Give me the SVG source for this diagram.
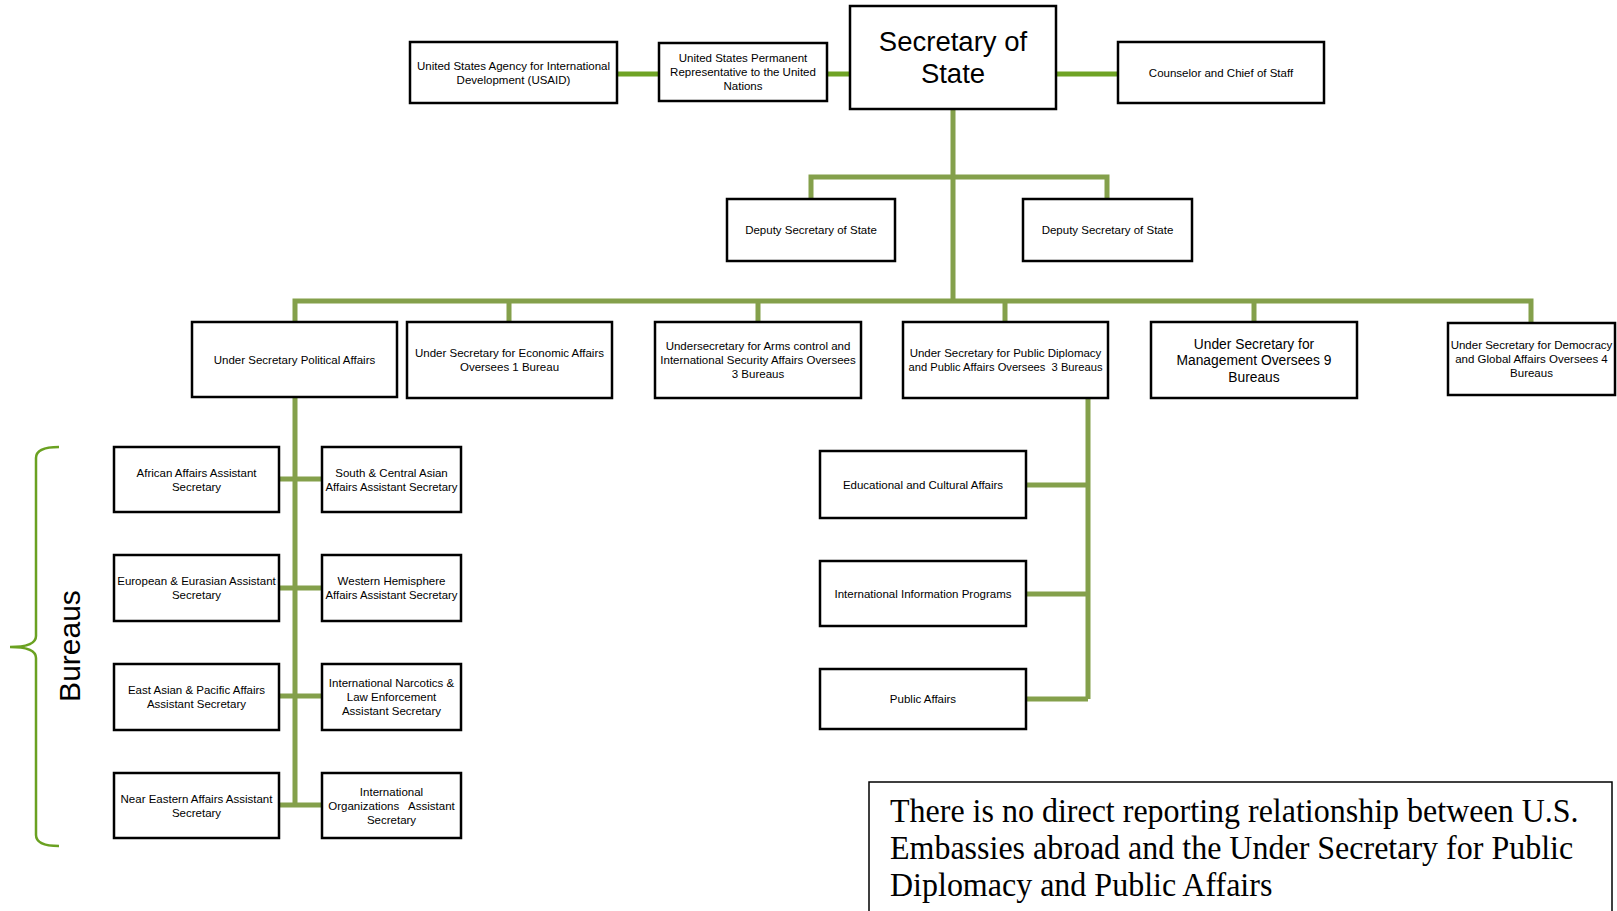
<svg xmlns="http://www.w3.org/2000/svg" width="1617" height="911" viewBox="0 0 1617 911">
<style>
.box{fill:#fff;stroke:#000;stroke-width:2.5}
.t{font-family:"Liberation Sans",Arial,sans-serif;font-size:11.5px;fill:#000;text-anchor:middle}
.big{font-size:27.5px}
.mid{font-size:13.8px}
.tree{fill:none;stroke:#84a04b;stroke-width:5}
.top{fill:none;stroke:#6fa325;stroke-width:5}
.note{font-family:"Liberation Serif","Times New Roman",serif;font-size:32px;fill:#000}
</style>
<rect width="1617" height="911" fill="#fff"/>
<g id="connectors">
<path class="top" d="M617,74H659M827,74H850M1056,74H1118"/>
<path class="tree" d="M953,109V301"/>
<path class="tree" d="M811,199V177H1107V199"/>
<path class="tree" d="M295,322V301H1531V322M509,301V322M758,301V322M1005,301V322M1254,301V322"/>
<path class="tree" d="M295,397V805M279,479H322M279,588H322M279,696H322M279,805H322"/>
<path class="tree" d="M1088,398V699M1026,485H1088M1026,594H1088M1026,699H1088"/>
</g>
<g id="n-usaid"><rect class="box" x="410" y="42" width="207" height="61"/><text class="t" x="513.5" y="69.5">United States Agency for International</text><text class="t" x="513.5" y="83.5">Development (USAID)</text></g>
<g id="n-un"><rect class="box" x="659" y="43" width="168" height="58"/><text class="t" x="743" y="62">United States Permanent</text><text class="t" x="743" y="76">Representative to the United</text><text class="t" x="743" y="90">Nations</text></g>
<g id="n-secretary"><rect class="box" x="850" y="6" width="206" height="103"/><text class="t big" x="953" y="51">Secretary of</text><text class="t big" x="953" y="83">State</text></g>
<g id="n-counselor"><rect class="box" x="1118" y="42" width="206" height="61"/><text class="t" x="1221" y="76.5">Counselor and Chief of Staff</text></g>
<g id="n-deputy1"><rect class="box" x="727" y="199" width="168" height="62"/><text class="t" x="811" y="234">Deputy Secretary of State</text></g>
<g id="n-deputy2"><rect class="box" x="1023" y="199" width="169" height="62"/><text class="t" x="1107.5" y="234">Deputy Secretary of State</text></g>
<g id="n-political"><rect class="box" x="192" y="322" width="205" height="75"/><text class="t" x="294.5" y="363.5">Under Secretary Political Affairs</text></g>
<g id="n-economic"><rect class="box" x="407" y="322" width="205" height="76"/><text class="t" x="509.5" y="357">Under Secretary for Economic Affairs</text><text class="t" x="509.5" y="371">Oversees 1 Bureau</text></g>
<g id="n-arms"><rect class="box" x="655" y="322" width="206" height="76"/><text class="t" x="758" y="350">Undersecretary for Arms control and</text><text class="t" x="758" y="364">International Security Affairs Oversees</text><text class="t" x="758" y="378">3 Bureaus</text></g>
<g id="n-publicdiplomacy"><rect class="box" x="903" y="322" width="205" height="76"/><text class="t" x="1005.5" y="357">Under Secretary for Public Diplomacy</text><text class="t" x="1005.5" y="371" xml:space="preserve" textLength="194" lengthAdjust="spacingAndGlyphs">and Public Affairs Oversees  3 Bureaus</text></g>
<g id="n-management"><rect class="box" x="1151" y="322" width="206" height="76"/><text class="t mid" x="1254" y="348.5">Under Secretary for</text><text class="t mid" x="1254" y="365">Management Oversees 9</text><text class="t mid" x="1254" y="381.5">Bureaus</text></g>
<g id="n-democracy"><rect class="box" x="1448" y="323" width="167" height="72"/><text class="t" x="1531.5" y="349">Under Secretary for Democracy</text><text class="t" x="1531.5" y="363">and Global Affairs Oversees 4</text><text class="t" x="1531.5" y="377">Bureaus</text></g>
<g id="n-african"><rect class="box" x="114" y="447" width="165" height="65"/><text class="t" x="196.5" y="476.5">African Affairs Assistant</text><text class="t" x="196.5" y="490.5">Secretary</text></g>
<g id="n-southcentral"><rect class="box" x="322" y="447" width="139" height="65"/><text class="t" x="391.5" y="476.5">South &amp; Central Asian</text><text class="t" x="391.5" y="490.5" textLength="132" lengthAdjust="spacingAndGlyphs">Affairs Assistant Secretary</text></g>
<g id="n-european"><rect class="box" x="114" y="555" width="165" height="66"/><text class="t" x="196.5" y="585">European &amp; Eurasian Assistant</text><text class="t" x="196.5" y="599">Secretary</text></g>
<g id="n-western"><rect class="box" x="322" y="555" width="139" height="66"/><text class="t" x="391.5" y="585">Western Hemisphere</text><text class="t" x="391.5" y="599" textLength="132" lengthAdjust="spacingAndGlyphs">Affairs Assistant Secretary</text></g>
<g id="n-eastasian"><rect class="box" x="114" y="664" width="165" height="66"/><text class="t" x="196.5" y="694">East Asian &amp; Pacific Affairs</text><text class="t" x="196.5" y="708">Assistant Secretary</text></g>
<g id="n-narcotics"><rect class="box" x="322" y="664" width="139" height="66"/><text class="t" x="391.5" y="687">International Narcotics &amp;</text><text class="t" x="391.5" y="701">Law Enforcement</text><text class="t" x="391.5" y="715">Assistant Secretary</text></g>
<g id="n-neareastern"><rect class="box" x="114" y="773" width="165" height="65"/><text class="t" x="196.5" y="802.5">Near Eastern Affairs Assistant</text><text class="t" x="196.5" y="816.5">Secretary</text></g>
<g id="n-intlorgs"><rect class="box" x="322" y="773" width="139" height="65"/><text class="t" x="391.5" y="795.5">International</text><text class="t" x="391.5" y="809.5" xml:space="preserve">Organizations   Assistant</text><text class="t" x="391.5" y="823.5">Secretary</text></g>
<g id="n-educational"><rect class="box" x="820" y="451" width="206" height="67"/><text class="t" x="923" y="488.5">Educational and Cultural Affairs</text></g>
<g id="n-iip"><rect class="box" x="820" y="561" width="206" height="65"/><text class="t" x="923" y="597.5">International Information Programs</text></g>
<g id="n-publicaffairs"><rect class="box" x="820" y="669" width="206" height="60"/><text class="t" x="923" y="703">Public Affairs</text></g>
<g id="bureaus-bracket">
<path d="M59,447 Q36,447 36,458 L36,636 Q36,647 10,647 Q36,647 36,658 L36,835 Q36,846 59,846" fill="none" stroke="#6aa121" stroke-width="2.5"/>
<text x="80" y="646" transform="rotate(-90 80 646)" style="font-family:'Liberation Sans',Arial,sans-serif;font-size:30px;text-anchor:middle;fill:#000">Bureaus</text>
</g>
<g id="note">
<rect x="869" y="782" width="743" height="140" fill="#fff" stroke="#000" stroke-width="1.5"/>
<g transform="translate(890 822) scale(1 1.08)">
<text class="note" x="0" y="0">There is no direct reporting relationship between U.S.</text>
<text class="note" x="0" y="34.3">Embassies abroad and the Under Secretary for Public</text>
<text class="note" x="0" y="68.5">Diplomacy and Public Affairs</text>
</g>
</g>
</svg>
